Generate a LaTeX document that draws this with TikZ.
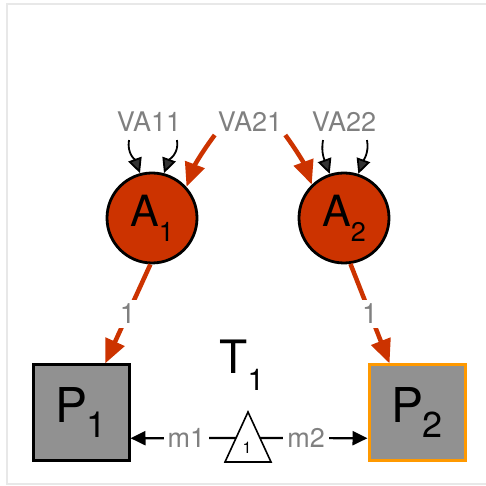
\documentclass[tikz,border=0pt]{standalone}
\usepackage{fontspec}
\setmainfont{TeX Gyre Heros}
\usetikzlibrary{arrows.meta}
\definecolor{vred}{RGB}{204,51,0}
\definecolor{lgray}{RGB}{128,128,128}
\definecolor{bgray}{RGB}{145,145,145}
\definecolor{borange}{RGB}{255,153,0}
\definecolor{fgray}{RGB}{232,232,232}
\newcommand{\fs}[1]{\fontsize{#1}{#1}\selectfont}
\newcommand{\lowsub}[3]{\raisebox{-#1}{\fs{#2}#3}}

\begin{document}
\begin{tikzpicture}[x=1pt, y=1pt,
		lbl/.style = {text=lgray, font=\fs{27}, inner sep=3pt},
		av/.style = {circle, draw=black, line width=2.8pt, fill=vred, minimum size=90pt, inner sep=0pt, font=\fs{43}},
		pv/.style = {rectangle, line width=3pt, fill=bgray, minimum size=96pt, inner sep=0pt, font=\fs{48}},
		vin/.style = {-{Triangle[length=15pt, width=14pt, fill=black!80]}, line width=1.8pt},
		rin/.style = {-{Triangle[length=24pt, width=20pt]}, line width=4.5pt, draw=vred},
		mout/.style = {-{Triangle[length=15pt, width=14pt]}, line width=2.2pt},
		]
		
		\useasboundingbox (0,0) rectangle (485,486);
		\draw[fgray, line width=2pt]	(7,2)	rectangle	(500,482);
		
		\node[lbl]	(VA11)	at (149,364)	{VA11};
		\node[lbl]	(VA21)	at (250,364)	{VA21};
		\node[lbl]	(VA22)	at (344,364)	{VA22};
		
		\node[av]	(A1)	at (152,268)	{A\lowsub{15pt}{27}{1}};
		\node[av]	(A2)	at (344,268)	{A\lowsub{15pt}{27}{2}};
		
		\node[font=\fs{46}]	(T1)	at (242,121)	{T\lowsub{17pt}{30}{1}};
		
		\node[pv, draw=black]	(P1)	at (81,73)	{P\kern-2pt\lowsub{15pt}{36}{1}};
		\node[pv, draw=borange]	(P2)	at (417,73)	{P\kern-2pt\lowsub{15pt}{36}{2}};
		
		\draw[line width=1.6pt, fill=white]	(225,24) -- (248,74) -- (271,24) -- cycle;
		\node[font=\fs{16}, inner sep=0pt]	(tri)	at (247,38)	{1};
		\coordinate (tl) at (236,48);
		\coordinate (tr) at (260,48);
		
		\draw[vin]	([xshift=-20pt, yshift=-5pt]VA11.south)	to[out=-100, in=110]	(A1.105);
		\draw[vin]	([xshift=28pt, yshift=-5pt]VA11.south)	to[out=-80, in=70]	(A1.75);
		\draw[vin]	([xshift=-21pt, yshift=-5pt]VA22.south)	to[out=-100, in=110]	(A2.108);
		\draw[vin]	([xshift=23pt, yshift=-5pt]VA22.south)	to[out=-80, in=70]	(A2.72);
		
		\draw[rin]	(VA21.south west)	to[bend right=8]	(A1.42);
		\draw[rin]	(VA21.south east)	to[bend left=8]	(A2.134);
		
		\draw[rin]	(A1.-92)	-- node[lbl, fill=white, font=\fs{28}, inner sep=4pt] {1}	(P1.64);
		\draw[rin]	(A2.-82)	-- node[lbl, fill=white, font=\fs{28}, inner sep=4pt] {1}	(P2.119);
		
		\draw[mout]	(tl)	-- node[lbl, fill=white, pos=0.47, inner sep=4pt] {m1}	(P1.-27);
		\draw[mout]	(tr)	-- node[lbl, fill=white, pos=0.43, inner sep=4pt] {m2}	(P2.207);
	\end{tikzpicture}
\end{document}
